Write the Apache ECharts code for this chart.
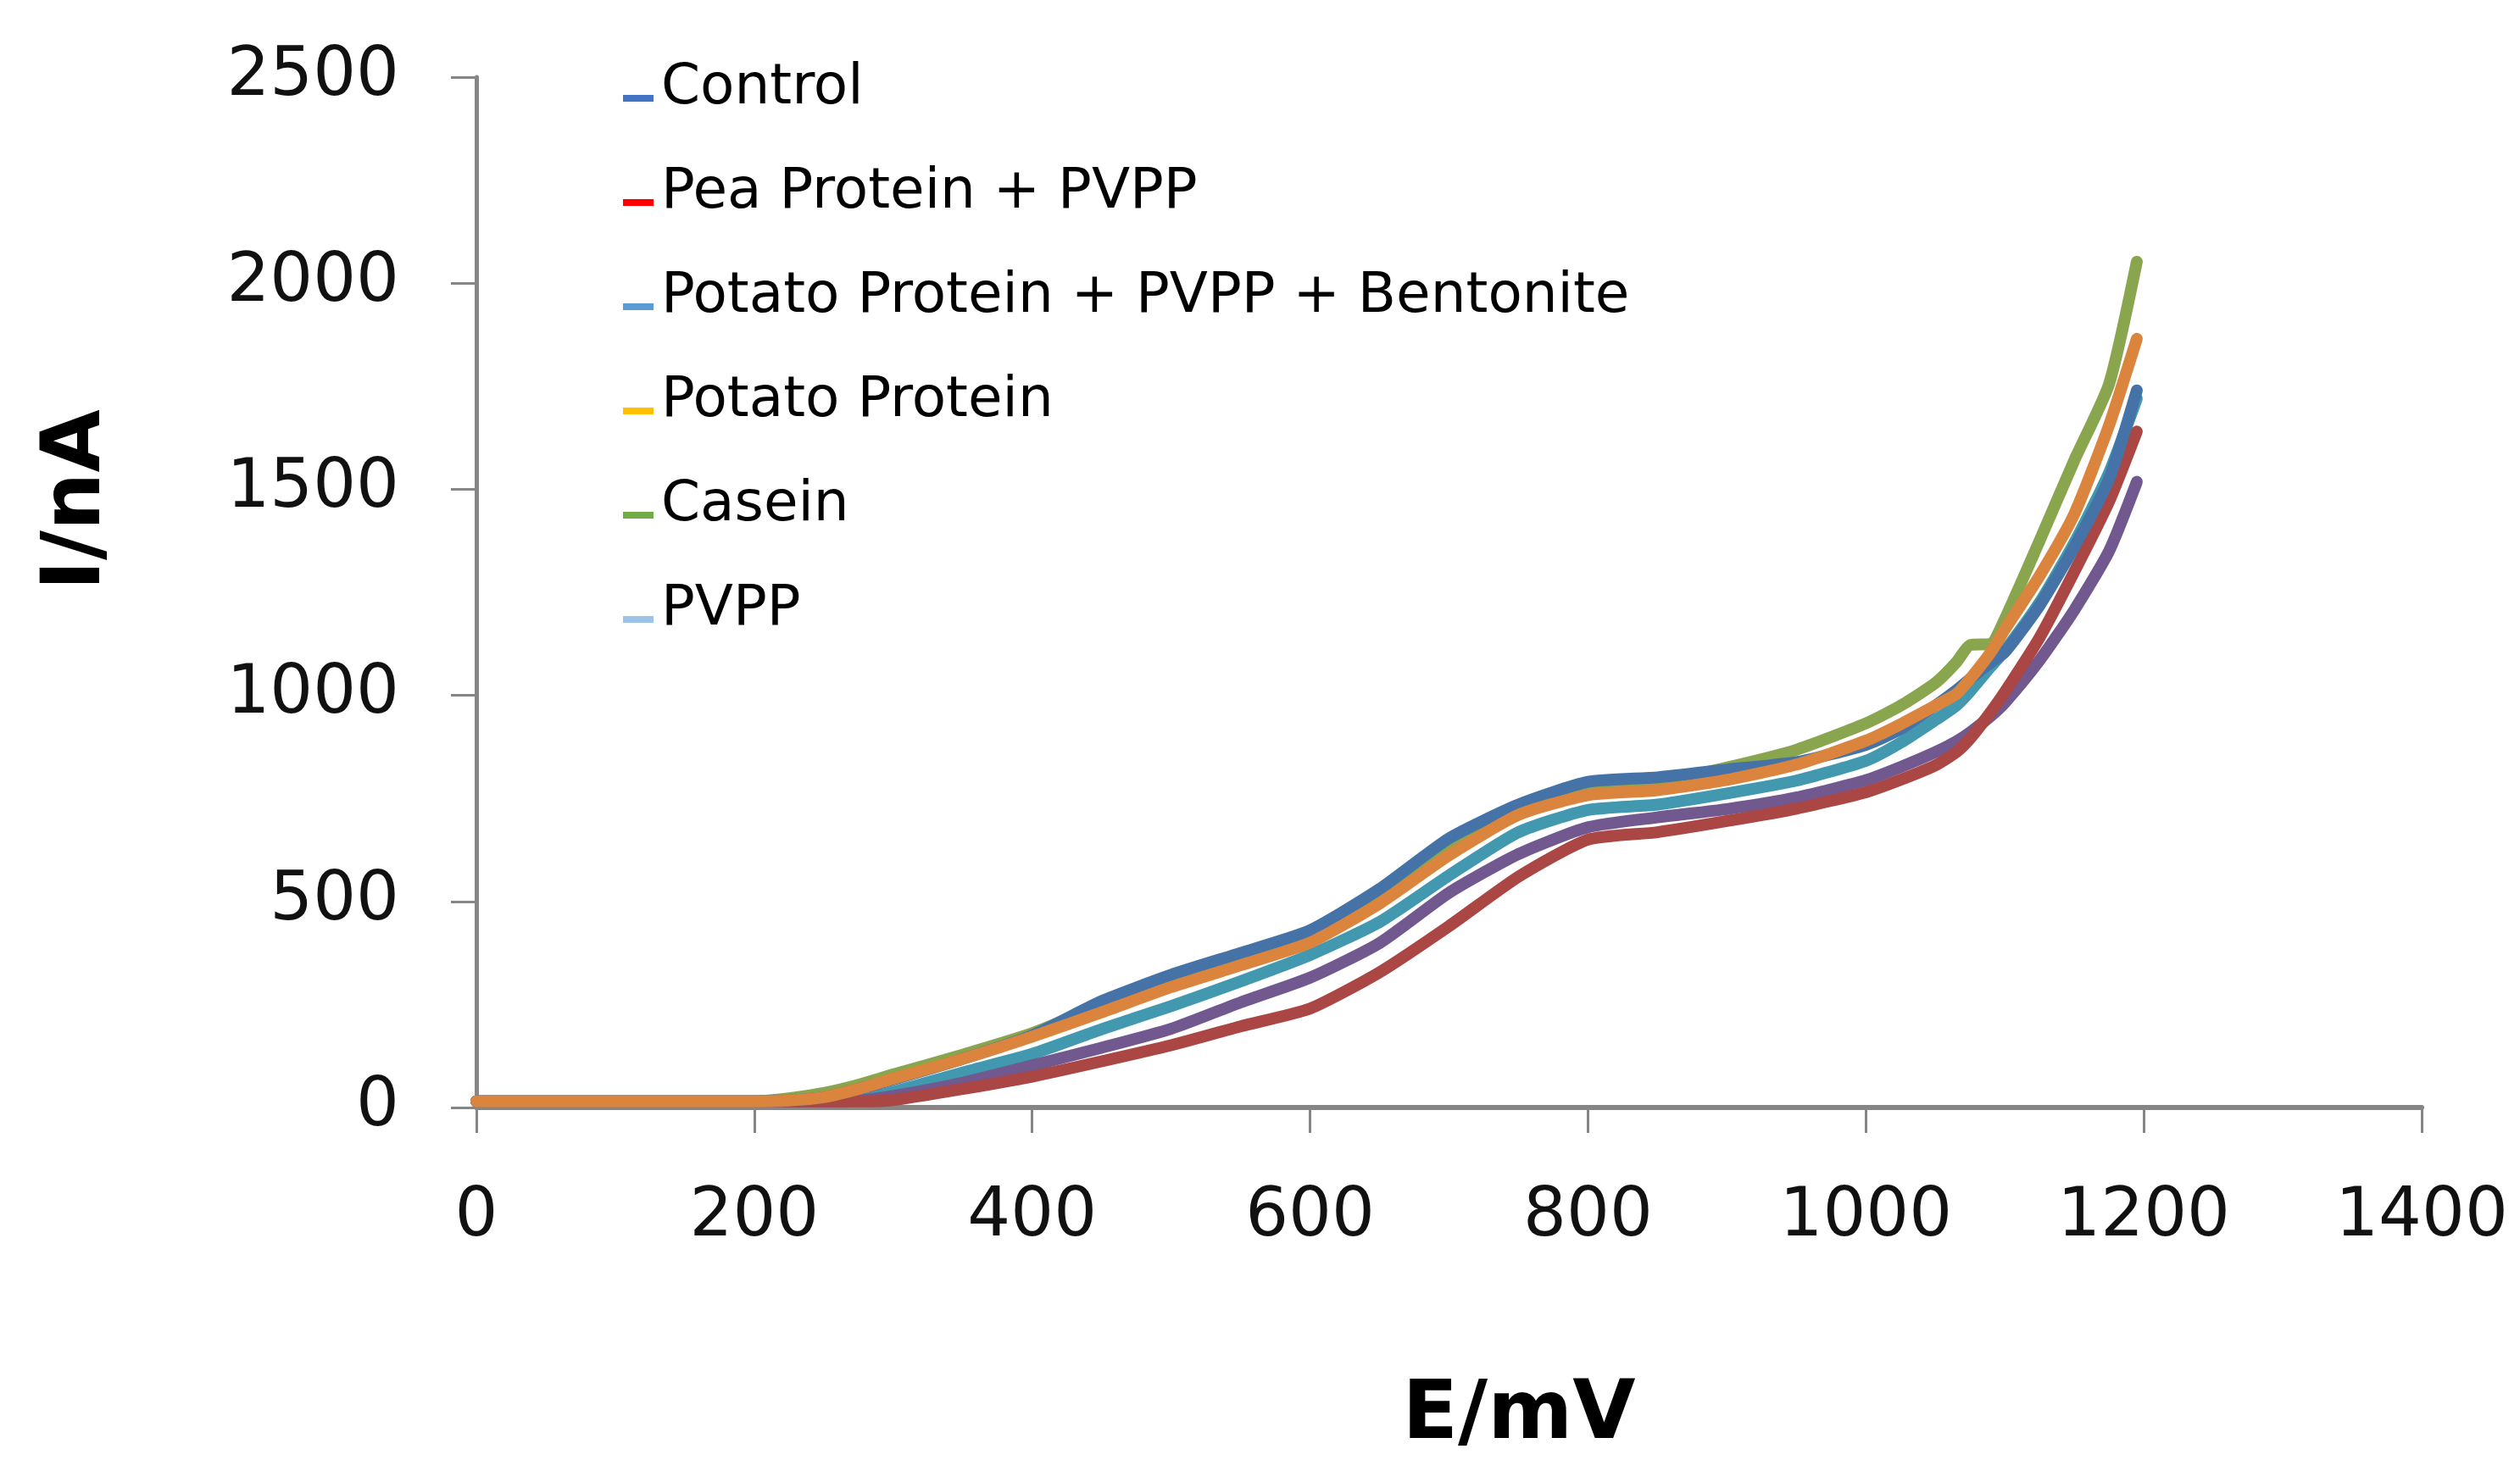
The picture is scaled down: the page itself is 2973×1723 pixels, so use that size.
<!DOCTYPE html>
<html>
<head>
<meta charset="utf-8">
<script src="https://cdn.jsdelivr.net/npm/echarts@6/dist/echarts.min.js"></script>
<style>
    html, body { margin: 0; padding: 0; background: #fff; }
    #chart { width: 2973px; height: 1723px; }
</style>
</head>
<body>
<div id="chart"></div>
<script>
// potential E (mV), shared by all series
let potential = [0, 100, 200, 225, 250, 275, 300, 350, 400, 450, 500, 550, 600, 650, 700, 750, 800, 850, 900, 950, 1000, 1025, 1050, 1065, 1075, 1090, 1100, 1125, 1150, 1175, 1195]

// current I (nA)
let control = [15, 15, 15, 17, 25, 45, 68, 118, 175, 258, 322, 375, 430, 530, 653, 735, 790, 801, 820, 838, 880, 918, 975, 1012, 1040, 1080, 1105, 1218, 1360, 1525, 1740]
let pea_pvpp = [15, 15, 15, 15, 15, 15, 18, 45, 75, 112, 151, 197, 240, 328, 440, 560, 650, 668, 695, 725, 765, 795, 830, 862, 895, 960, 1008, 1140, 1300, 1470, 1640]
let potato_pvpp_bent = [15, 15, 15, 15, 17, 20, 38, 85, 130, 190, 246, 306, 370, 450, 563, 668, 722, 735, 762, 793, 841, 885, 940, 975, 1010, 1070, 1108, 1225, 1370, 1540, 1720]
let potato = [15, 15, 15, 17, 25, 45, 70, 118, 172, 231, 292, 345, 400, 495, 612, 710, 758, 770, 795, 832, 890, 930, 975, 1003, 1040, 1105, 1160, 1290, 1440, 1655, 1865]
let casein = [15, 15, 15, 22, 35, 55, 80, 128, 180, 248, 308, 360, 415, 512, 632, 720, 770, 790, 825, 868, 932, 975, 1030, 1080, 1122, 1125, 1185, 1375, 1570, 1755, 2052]
let pvpp = [15, 15, 15, 15, 15, 17, 28, 60, 102, 145, 191, 255, 315, 399, 521, 615, 680, 704, 724, 752, 794, 826, 862, 888, 910, 950, 982, 1085, 1207, 1350, 1518]

let x_ticks = [0, 200, 400, 600, 800, 1000, 1200, 1400]
let y_ticks = [0, 500, 1000, 1500, 2000, 2500]

let legend_names = ['Control', 'Pea Protein + PVPP', 'Potato Protein + PVPP + Bentonite', 'Potato Protein', 'Casein', 'PVPP']
let legend_colors = ['#4472C4', '#FF0000', '#5B9BD5', '#FFC000', '#70AD47', '#9DC3E6']

// drawing order, bottom to top
let series_list = [
    {name: 'Potato Protein + PVPP + Bentonite', values: potato_pvpp_bent, color: '#4198AF'},
    {name: 'PVPP', values: pvpp, color: '#71588F'},
    {name: 'Pea Protein + PVPP', values: pea_pvpp, color: '#AA4643'},
    {name: 'Casein', values: casein, color: '#89A54E'},
    {name: 'Control', values: control, color: '#4572A7'},
    {name: 'Potato Protein', values: potato, color: '#DB843D'}
]

function pairs(vals) {
    return potential.map((e, i) => [e, vals[i]])
}

let font = 'DejaVu Sans'

var chart = echarts.init(document.getElementById('chart'), null, {renderer: 'canvas'})

chart.setOption({
    animation: false,
    backgroundColor: '#ffffff',
    grid: {left: 562, right: 116, top: 91, bottom: 416, containLabel: false},
    legend: {
        orient: 'vertical',
        left: 730,
        top: 67,
        // short dash sitting low, near the text baseline
        icon: 'path://M0,0 Z M0,22 L36,22 L36,30 L0,30 Z',
        itemWidth: 36,
        itemHeight: 30,
        itemGap: 57,
        textStyle: {fontFamily: font, fontSize: 66, color: '#000', padding: [0, 0, 0, 4]},
        data: legend_names.map((n, i) => ({name: n, itemStyle: {color: legend_colors[i]}}))
    },
    xAxis: {
        type: 'value',
        min: x_ticks[0],
        max: x_ticks[x_ticks.length - 1],
        interval: 200,
        splitLine: {show: false},
        axisLine: {lineStyle: {color: '#868686', width: 6}},
        axisTick: {length: 30, lineStyle: {color: '#868686', width: 3}},
        axisLabel: {margin: 90, fontFamily: font, fontSize: 80, color: '#111', formatter: v => String(v)}
    },
    yAxis: {
        type: 'value',
        min: y_ticks[0],
        max: y_ticks[y_ticks.length - 1],
        interval: 500,
        splitLine: {show: false},
        axisLine: {show: true, lineStyle: {color: '#868686', width: 5}},
        axisTick: {show: true, length: 30, lineStyle: {color: '#868686', width: 3}},
        axisLabel: {margin: 91, fontFamily: font, fontSize: 80, color: '#111', formatter: v => String(v)}
    },
    graphic: [
        {
            type: 'text', x: 92, y: 590, rotation: Math.PI / 2,
            style: {text: 'I/nA', fontFamily: font, fontWeight: 'bold', fontSize: 96, fill: '#000', textAlign: 'center', textVerticalAlign: 'middle'}
        },
        {
            type: 'text', x: 1792, y: 1672,
            style: {text: 'E/mV', fontFamily: font, fontWeight: 'bold', fontSize: 96, fill: '#000', textAlign: 'center', textVerticalAlign: 'middle'}
        }
    ],
    series: series_list.map(s => ({
        name: s.name,
        type: 'line',
        data: pairs(s.values),
        showSymbol: false,
        symbol: 'none',
        smooth: 0.2,
        itemStyle: {color: s.color},
        lineStyle: {color: s.color, width: 14, join: 'round', cap: 'round'}
    }))
})
</script>
</body>
</html>
